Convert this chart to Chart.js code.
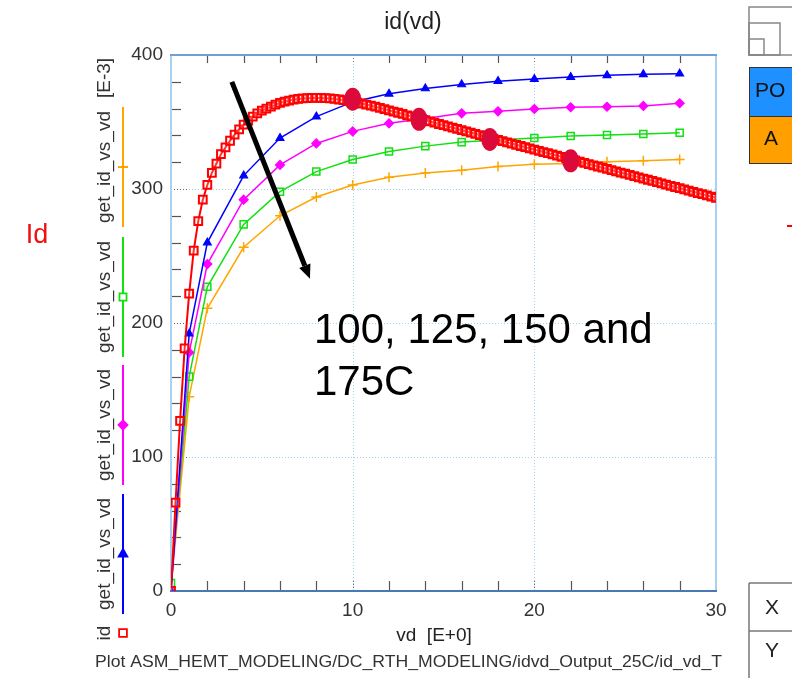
<!DOCTYPE html>
<html>
<head>
<meta charset="utf-8">
<title>id(vd)</title>
<script src="https://cdn.jsdelivr.net/npm/chart.js"></script>
<style>
  html, body { margin: 0; padding: 0; background: #fff; }
  canvas { display: block; }
</style>
</head>
<body>
<canvas id="chart" width="792" height="678"></canvas>
<script>
// ----- DATA ----- //
// 25C sweep, fine vd steps (red, square markers)
const vdRed = [0,0.25,0.5,0.75,1,1.25,1.5,1.75,2,2.25,2.5,2.75,3,3.25,3.5,3.75,4,4.25,4.5,4.75,5,5.25,5.5,5.75,6,6.25,6.5,6.75,7,7.25,7.5,7.75,8,8.25,8.5,8.75,9,9.25,9.5,9.75,10,10.25,10.5,10.75,11,11.25,11.5,11.75,12,12.25,12.5,12.75,13,13.25,13.5,13.75,14,14.25,14.5,14.75,15,15.25,15.5,15.75,16,16.25,16.5,16.75,17,17.25,17.5,17.75,18,18.25,18.5,18.75,19,19.25,19.5,19.75,20,20.25,20.5,20.75,21,21.25,21.5,21.75,22,22.25,22.5,22.75,23,23.25,23.5,23.75,24,24.25,24.5,24.75,25,25.25,25.5,25.75,26,26.25,26.5,26.75,27,27.25,27.5,27.75,28,28.25,28.5,28.75,29,29.25,29.5,29.75,30];
const idRed = [0,66,127,181,222,254,276,292,303,312,319,326,331,336,340.5,344.5,348,351,354,356.5,358.5,360,361.5,363,364.2,365.2,366,366.7,367.2,367.6,367.8,368,368,368,367.8,367.6,367.2,366.8,366.3,365.8,365.2,364.5,363.8,363,362.2,361.4,360.5,359.6,358.7,357.8,356.9,356,355,354.1,353.2,352.2,351.3,350.4,349.5,348.5,347.6,346.7,345.8,344.9,343.9,343,342.1,341.2,340.2,339.3,338.4,337.5,336.6,335.7,334.8,333.9,333,332.1,331.2,330.3,329.4,328.5,327.6,326.7,325.8,324.9,324,323.1,322.2,321.3,320.4,319.5,318.6,317.7,316.8,315.9,315,314.1,313.2,312.3,311.4,310.5,309.6,308.7,307.8,306.9,306,305.1,304.2,303.3,302.4,301.5,300.6,299.7,298.8,297.9,297,296.1,295.2,294.3,293.4];

// 100 / 125 / 150 / 175C sweeps
const vdSweep = [0,1,2,4,6,8,10,12,14,16,18,20,22,24,26,28];
const idBlue = [0,192,260,310,338,354,365,371,375,378,380.5,382,383.5,384.8,385.6,386];
const idMagenta = [0,178,244,292,318,334,343,349,352.7,356.5,358,359.7,361,361.4,362,364];
const idGreen = [6,160,227,273.6,298,313,322,328,332,335,336.6,338,339.5,340.3,341,342];
const idOrange = [3,145,211,256.5,280,294,303,308.7,312,314,316.7,318.4,319,320.4,321,322];

// crossing marks and arrow (data units)
const crossVd = [10, 13.65, 17.55, 22];
const crossId = [367, 352, 337, 321];
const arrowVd = [3.35, 7.65];
const arrowId = [380, 233];

const FONT = '"Liberation Sans", Arial, sans-serif';

function pts(xs, ys) {
    return xs.map((v, i) => ({ x: v, y: ys[i] }));
}

function line(ctx, x1, y1, x2, y2) {
    ctx.beginPath();
    ctx.moveTo(x1, y1);
    ctx.lineTo(x2, y2);
    ctx.stroke();
}

// ----- FRAME: grid, ticks, borders ----- //
const framePlugin = {
    id: 'frame',
    beforeDatasetsDraw(chart) {
        const { ctx, chartArea: a, scales: { x, y } } = chart;
        ctx.save();
        // dotted grid
        ctx.lineWidth = 1;
        ctx.strokeStyle = '#a3d2ef';
        ctx.setLineDash([1, 2]);
        [10, 20].forEach(v => {
            const px = Math.round(x.getPixelForValue(v)) + 0.5;
            line(ctx, px, a.top, px, a.bottom);
        });
        [100, 200, 300].forEach(v => {
            const py = Math.round(y.getPixelForValue(v)) + 0.5;
            line(ctx, a.left, py, a.right, py);
        });
        // darker dotted stubs at majors
        ctx.strokeStyle = '#666';
        [10, 20].forEach(v => {
            const px = Math.round(x.getPixelForValue(v)) + 0.5;
            line(ctx, px, a.bottom, px, a.bottom - 10);
            line(ctx, px, a.top, px, a.top + 8);
        });
        [100, 200, 300].forEach(v => {
            const py = Math.round(y.getPixelForValue(v)) + 0.5;
            line(ctx, a.left, py, a.left + 18, py);
        });
        // minor ticks, pointing inward
        ctx.setLineDash([]);
        ctx.strokeStyle = '#555';
        ctx.lineWidth = 1.2;
        for (let v = 2; v < 30; v += 2) {
            if (v % 10 === 0) continue;
            const px = Math.round(x.getPixelForValue(v)) + 0.5;
            line(ctx, px, a.bottom, px, a.bottom - 10);
            line(ctx, px, a.top, px, a.top + 8);
        }
        for (let v = 20; v < 400; v += 20) {
            if (v % 100 === 0) continue;
            const py = Math.round(y.getPixelForValue(v)) + 0.5;
            line(ctx, a.left, py, a.left + 10, py);
        }
        // borders
        ctx.lineWidth = 2;
        ctx.strokeStyle = '#a9d1f3';
        line(ctx, a.left, a.top, a.left, a.bottom);
        line(ctx, a.right, a.top, a.right, a.bottom);
        ctx.strokeStyle = '#6f9fd8';
        line(ctx, a.left - 1, a.top, a.right + 1, a.top);
        ctx.strokeStyle = '#4a78b2';
        line(ctx, a.left - 1, a.bottom, a.right + 1, a.bottom);
        ctx.restore();
    }
};

// ----- OVERLAY: annotations, legend column, labels ----- //
const overlayPlugin = {
    id: 'overlay',
    afterDraw(chart) {
        const { ctx, chartArea: a, scales: { x, y } } = chart;
        const H = Chart.helpers;
        ctx.save();

        // red crossing marks
        ctx.fillStyle = '#dc0a3a';
        crossVd.forEach((v, i) => {
            ctx.beginPath();
            ctx.ellipse(x.getPixelForValue(v), y.getPixelForValue(crossId[i]), 8.5, 11.5, 0, 0, Math.PI * 2);
            ctx.fill();
        });

        // black arrow
        const x0 = x.getPixelForValue(arrowVd[0]), y0 = y.getPixelForValue(arrowId[0]);
        const x1 = x.getPixelForValue(arrowVd[1]), y1 = y.getPixelForValue(arrowId[1]);
        const ang = Math.atan2(y1 - y0, x1 - x0);
        const headLen = 14, headW = 6;
        const bx = x1 - headLen * Math.cos(ang), by = y1 - headLen * Math.sin(ang);
        ctx.strokeStyle = '#000';
        ctx.lineWidth = 5;
        line(ctx, x0, y0, bx, by);
        ctx.fillStyle = '#000';
        ctx.beginPath();
        ctx.moveTo(x1, y1);
        ctx.lineTo(bx + headW * Math.sin(ang), by - headW * Math.cos(ang));
        ctx.lineTo(bx - headW * Math.sin(ang), by + headW * Math.cos(ang));
        ctx.closePath();
        ctx.fill();

        // annotation text
        ctx.fillStyle = '#000';
        ctx.textAlign = 'left';
        ctx.textBaseline = 'middle';
        ctx.font = '42px ' + FONT;
        ctx.fillText('100, 125, 150 and', 314, 331);
        ctx.fillText('175C', 314, 383);

        // title
        ctx.fillStyle = '#222';
        ctx.textAlign = 'center';
        ctx.font = '23px ' + FONT;
        ctx.fillText('id(vd)', 413, 23);

        // x axis title
        ctx.fillStyle = '#222';
        ctx.font = '19px ' + FONT;
        ctx.fillText('vd  [E+0]', 434, 636);

        // bottom path line
        ctx.textAlign = 'left';
        ctx.font = '17px ' + FONT;
        const path = 'Plot ASM_HEMT_MODELING/DC_RTH_MODELING/idvd_Output_25C/id_vd_T';
        const w = ctx.measureText(path).width;
        ctx.save();
        ctx.translate(95, 662);
        ctx.scale(627 / w, 1);
        ctx.fillStyle = '#333';
        ctx.fillText(path, 0, 0);
        ctx.restore();

        // big "Id"
        ctx.fillStyle = '#f01010';
        ctx.textAlign = 'center';
        ctx.font = '27px ' + FONT;
        ctx.fillText('Id', 37, 236);

        // left legend column
        const legend = [
            { label: '[E-3]', c: 78 },
            { label: 'get_id_vs_vd', c: 167, color: '#ffa500', style: 'cross', r: 5 },
            { label: 'get_id_vs_vd', c: 297, color: '#11e011', style: 'rect', r: 5, hollow: true },
            { label: 'get_id_vs_vd', c: 425, color: '#ff00ff', style: 'rectRot', r: 4.5 },
            { label: 'get_id_vs_vd', c: 554, color: '#0000ff', style: 'triangle', r: 5 },
            { label: 'id', c: 633, color: '#ff0000', style: 'rect', r: 5.5, hollow: true, noLine: true }
        ];
        legend.forEach(e => {
            ctx.save();
            ctx.translate(105, e.c);
            ctx.rotate(-Math.PI / 2);
            ctx.fillStyle = '#333';
            ctx.textAlign = 'center';
            ctx.textBaseline = 'middle';
            ctx.font = '19px ' + FONT;
            ctx.fillText(e.label, 0, 0);
            ctx.restore();
            if (!e.color) return;
            ctx.strokeStyle = e.color;
            ctx.lineWidth = 2;
            if (!e.noLine) line(ctx, 123, e.c - 60, 123, e.c + 60);
            ctx.fillStyle = e.hollow ? '#fff' : e.color;
            ctx.lineWidth = 1.8;
            H.drawPoint(ctx, { pointStyle: e.style, radius: e.r, rotation: 0, borderWidth: 1.8 }, 123, e.c);
        });

        // right-side slide fragments
        ctx.strokeStyle = '#888';
        ctx.lineWidth = 1.5;
        ctx.strokeRect(749, 7, 60, 48);
        ctx.strokeRect(749, 23, 31, 32);
        ctx.strokeRect(749, 39, 15, 16);

        ctx.fillStyle = '#1e90ff';
        ctx.fillRect(749, 67, 50, 49);
        ctx.fillStyle = '#ffa000';
        ctx.fillRect(749, 116, 50, 47);
        ctx.strokeStyle = '#333';
        ctx.lineWidth = 1;
        ctx.strokeRect(749.5, 67.5, 50, 49);
        ctx.strokeRect(749.5, 116.5, 50, 47);
        ctx.fillStyle = '#111';
        ctx.font = '21px ' + FONT;
        ctx.textAlign = 'left';
        ctx.textBaseline = 'middle';
        ctx.fillText('PO', 755, 91);
        ctx.textAlign = 'center';
        ctx.fillText('A', 771, 139);

        ctx.strokeStyle = '#ff0000';
        ctx.lineWidth = 2;
        line(ctx, 787, 226, 792, 226);

        ctx.strokeStyle = '#777';
        ctx.lineWidth = 1.5;
        line(ctx, 749, 583, 749, 678);
        line(ctx, 749, 583, 792, 583);
        line(ctx, 749, 631, 792, 631);
        ctx.fillStyle = '#222';
        ctx.font = '21px ' + FONT;
        ctx.fillText('X', 772, 608);
        ctx.fillText('Y', 772, 651);

        ctx.restore();
    }
};

// ----- CHART ----- //
const datasets = [
    {   // drawn on top
        data: pts(vdRed, idRed),
        borderColor: '#ff0000',
        borderWidth: 2,
        pointStyle: 'rect',
        pointRadius: 5.5,
        pointBorderWidth: 2,
        pointBackgroundColor: 'rgba(255,255,255,0.2)'
    },
    {
        data: pts(vdSweep, idBlue),
        borderColor: '#0000ff',
        borderWidth: 1.5,
        pointStyle: 'triangle',
        pointRadius: 4.5,
        pointBorderWidth: 1.2,
        pointBackgroundColor: '#0000ff'
    },
    {
        data: pts(vdSweep, idMagenta),
        borderColor: '#ff00ff',
        borderWidth: 1.5,
        pointStyle: 'rectRot',
        pointRadius: 4.5,
        pointBorderWidth: 1.2,
        pointBackgroundColor: '#ff00ff'
    },
    {
        data: pts(vdSweep, idGreen),
        borderColor: '#11e011',
        borderWidth: 1.5,
        pointStyle: 'rect',
        pointRadius: 5,
        pointBorderWidth: 1.5,
        pointBackgroundColor: 'rgba(255,255,255,0)'
    },
    {
        data: pts(vdSweep, idOrange),
        borderColor: '#ffa500',
        borderWidth: 1.5,
        pointStyle: 'cross',
        pointRadius: 5,
        pointBorderWidth: 1.5,
        pointBackgroundColor: '#ffa500'
    }
];
datasets.forEach(d => {
    d.showLine = true;
    d.tension = 0;
    d.pointBorderColor = d.borderColor;
});

new Chart(document.getElementById('chart'), {
    type: 'scatter',
    data: { datasets },
    options: {
        responsive: false,
        animation: false,
        events: [],
        layout: { padding: { left: 121, right: 76, top: 55, bottom: 47 } },
        plugins: {
            legend: { display: false },
            tooltip: { enabled: false },
            title: { display: false }
        },
        scales: {
            x: {
                type: 'linear',
                min: 0,
                max: 30,
                grid: { display: false },
                border: { display: false },
                ticks: { stepSize: 10, color: '#333', font: { family: FONT, size: 19 }, padding: 0, maxRotation: 0 },
                afterFit: s => { s.height = 40; }
            },
            y: {
                type: 'linear',
                min: 0,
                max: 400,
                grid: { display: false },
                border: { display: false },
                ticks: { stepSize: 100, color: '#333', font: { family: FONT, size: 19 }, padding: 0 },
                afterFit: s => { s.width = 50; }
            }
        }
    },
    plugins: [framePlugin, overlayPlugin]
});
</script>
</body>
</html>
